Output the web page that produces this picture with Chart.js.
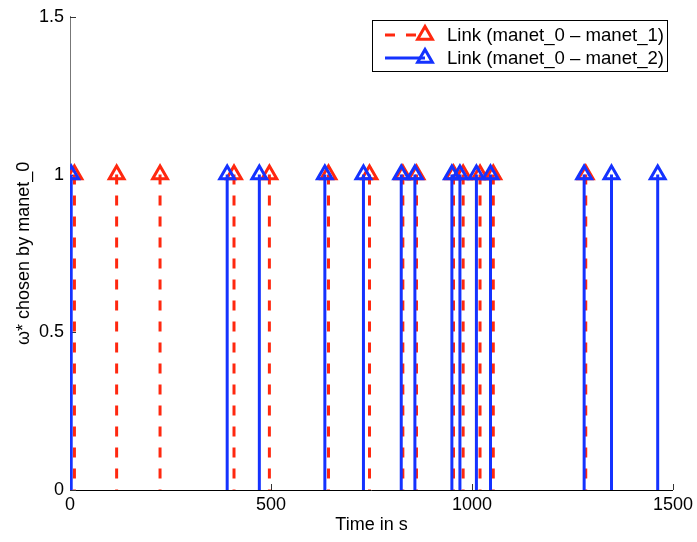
<!DOCTYPE html>
<html>
<head>
<meta charset="utf-8">
<script src="https://cdn.jsdelivr.net/npm/chart.js@4.4.0/dist/chart.umd.min.js"></script>
<style>
  html, body { margin: 0; padding: 0; background: #fff; }
  #wrap { width: 697px; height: 542px; }
</style>
</head>
<body>
<div id="wrap"><canvas id="canvas_stem"></canvas></div>
<script>
// data (time in s where the link was chosen)
const red_times = [11, 116, 224, 408, 496, 643, 745, 828, 862, 954, 978, 1020, 1053, 1283];
const blue_times = [3, 391, 471, 634, 730, 824, 858, 950, 970, 1011, 1046, 1279, 1347, 1462];
const stem_value = 1;
const x_ticks = [0, 500, 1000, 1500];
const y_ticks = [0, 0.5, 1, 1.5];
const series_labels = ['Link (manet_0 \u2013 manet_1)', 'Link (manet_0 \u2013 manet_2)'];

const RED = 'rgb(255, 40, 15)';
const BLUE = 'rgb(20, 50, 255)';

Chart.defaults.font.family = '"Liberation Sans", Arial, Helvetica, sans-serif';
Chart.defaults.color = '#000';

// each stem: top point, bottom point, then a gap
function stems(times) {
  const pts = [];
  times.forEach(t => {
    pts.push({x: t, y: stem_value});
    pts.push({x: t, y: 0});
    pts.push({x: t, y: null});
  });
  return pts;
}

function markerRadius(ctx) {
  return (ctx.raw && ctx.raw.y === stem_value) ? 8.5 : 0;
}

// inward tick marks like matlab
const tickPlugin = {
  id: 'tickPlugin',
  beforeDatasetsDraw(chart) {
    const ctx = chart.ctx;
    const xs = chart.scales.x, ys = chart.scales.y;
    const a = chart.chartArea;
    ctx.save();
    ctx.strokeStyle = '#333';
    ctx.lineWidth = 1;
    ctx.beginPath();
    x_ticks.forEach(v => {
      const px = Math.round(xs.getPixelForValue(v)) + 0.5;
      ctx.moveTo(px, a.bottom);
      ctx.lineTo(px, a.bottom - 6);
    });
    y_ticks.forEach(v => {
      const py = Math.round(ys.getPixelForValue(v)) + 0.5;
      ctx.moveTo(a.left, py);
      ctx.lineTo(a.left + 6, py);
    });
    ctx.stroke();
    ctx.restore();
  }
};

function triangle(ctx, x, y, r) {
  ctx.beginPath();
  ctx.moveTo(x, y - r);
  ctx.lineTo(x + r * Math.sin(Math.PI / 3), y + r / 2);
  ctx.lineTo(x - r * Math.sin(Math.PI / 3), y + r / 2);
  ctx.closePath();
}

// legend box with line + marker samples
const legendPlugin = {
  id: 'legendPlugin',
  afterDraw(chart) {
    const ctx = chart.ctx;
    const bx = 372.5, by = 20.5, bw = 295, bh = 51;
    ctx.save();
    ctx.fillStyle = '#fff';
    ctx.fillRect(bx, by, bw, bh);
    ctx.strokeStyle = '#000';
    ctx.lineWidth = 1;
    ctx.strokeRect(bx, by, bw, bh);
    const ds = chart.data.datasets;
    const rows = [35, 58];
    ds.forEach((d, i) => {
      const y = rows[i];
      ctx.strokeStyle = d.borderColor;
      ctx.lineWidth = d.borderWidth;
      ctx.setLineDash(d.borderDash || []);
      ctx.beginPath();
      ctx.moveTo(385, y);
      ctx.lineTo(425, y);
      ctx.stroke();
      ctx.setLineDash([]);
      ctx.lineWidth = d.pointBorderWidth;
      triangle(ctx, 425, y, 8.5);
      ctx.stroke();
      ctx.fillStyle = '#000';
      ctx.font = '18.6px "Liberation Sans", Arial, sans-serif';
      ctx.textAlign = 'left';
      ctx.textBaseline = 'middle';
      ctx.fillText(d.label, 447, y + 1);
    });
    ctx.restore();
  }
};

const data_stem = {
  datasets: [
    {
      label: series_labels[0],
      data: stems(red_times),
      borderColor: RED,
      backgroundColor: RED,
      borderWidth: 3,
      borderDash: [10, 11],
      pointStyle: 'triangle',
      pointRadius: markerRadius,
      pointHoverRadius: markerRadius,
      pointBorderWidth: 3,
      pointBorderColor: RED,
      pointBackgroundColor: 'rgba(0,0,0,0)',
      showLine: true,
      spanGaps: false,
      order: 1,
    },
    {
      label: series_labels[1],
      data: stems(blue_times),
      borderColor: BLUE,
      backgroundColor: BLUE,
      borderWidth: 3,
      pointStyle: 'triangle',
      pointRadius: markerRadius,
      pointHoverRadius: markerRadius,
      pointBorderWidth: 3,
      pointBorderColor: BLUE,
      pointBackgroundColor: 'rgba(0,0,0,0)',
      showLine: true,
      spanGaps: false,
      order: 0,
    },
  ]
};

const config_stem = {
  type: 'scatter',
  data: data_stem,
  options: {
    responsive: true,
    maintainAspectRatio: false,
    animation: false,
    layout: { padding: { top: 10, right: 21, left: 0, bottom: 0 } },
    plugins: {
      legend: { display: false },
      tooltip: { enabled: false },
    },
    scales: {
      x: {
        type: 'linear',
        min: 0,
        max: 1500,
        afterFit: s => { s.height = 52; },
        afterBuildTicks: s => { s.ticks = x_ticks.map(v => ({value: v})); },
        ticks: {
          font: { size: 18 },
          padding: 4,
          callback: v => String(v),
        },
        grid: { display: false, drawTicks: false },
        border: { color: '#000', width: 1 },
        title: {
          display: true,
          text: 'Time in s',
          font: { size: 18 },
          padding: { top: 0, bottom: 6 },
        },
      },
      y: {
        min: 0,
        max: 1.5,
        afterFit: s => { s.width = 70; },
        afterBuildTicks: s => { s.ticks = y_ticks.map(v => ({value: v})); },
        ticks: {
          font: { size: 18 },
          padding: 6,
          callback: v => String(v),
        },
        grid: { display: false, drawTicks: false },
        border: { color: '#777', width: 1 },
        title: {
          display: true,
          text: '\u03c9* chosen by manet_0',
          font: { size: 18 },
          padding: { top: 13, bottom: 0 },
        },
      },
    },
  },
  plugins: [tickPlugin, legendPlugin],
};

const canvas_stem = document.getElementById('canvas_stem');
const chart_stem = new Chart(canvas_stem, config_stem);
</script>
</body>
</html>
